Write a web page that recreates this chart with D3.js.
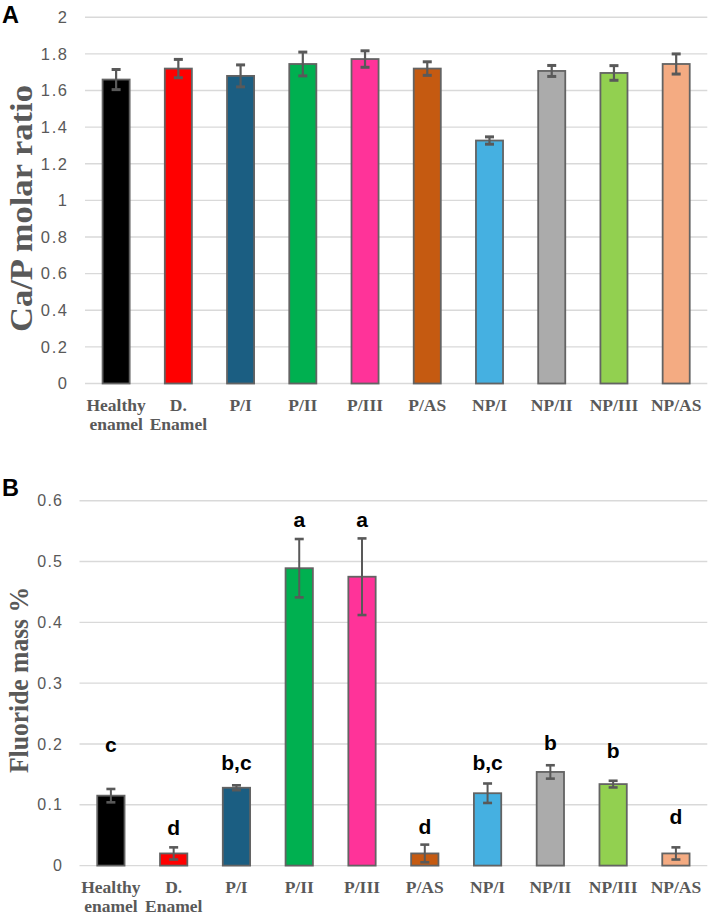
<!DOCTYPE html>
<html>
<head>
<meta charset="utf-8">
<script src="https://cdn.jsdelivr.net/npm/d3@7"></script>
<style>
  html, body { margin: 0; padding: 0; background: #ffffff; }
  svg { display: block; }
</style>
</head>
<body>
<script>
// ---------- data ----------
const categories = ["Healthy enamel", "D. Enamel", "P/I", "P/II", "P/III", "P/AS", "NP/I", "NP/II", "NP/III", "NP/AS"];
const categoryLines = [["Healthy", "enamel"], ["D.", "Enamel"], ["P/I"], ["P/II"], ["P/III"], ["P/AS"], ["NP/I"], ["NP/II"], ["NP/III"], ["NP/AS"]];
const barColors = ["#000000", "#ff0000", "#1b5e82", "#00b050", "#ff3399", "#c55a11", "#45b0e1", "#ababab", "#92d050", "#f4ab82"];

const caPRatio = [1.66, 1.72, 1.68, 1.745, 1.772, 1.72, 1.327, 1.707, 1.696, 1.745];
const caPError = [0.055, 0.05, 0.06, 0.065, 0.045, 0.037, 0.02, 0.03, 0.04, 0.055];
const caPTicks = [0, 0.2, 0.4, 0.6, 0.8, 1, 1.2, 1.4, 1.6, 1.8, 2];

const fluorideMass = [0.115, 0.020, 0.128, 0.489, 0.475, 0.020, 0.119, 0.154, 0.134, 0.020];
const fluorideError = [0.011, 0.010, 0.004, 0.048, 0.063, 0.0145, 0.016, 0.011, 0.0055, 0.010];
const fluorideTicks = [0, 0.1, 0.2, 0.3, 0.4, 0.5, 0.6];
const groupLetters = ["c", "d", "b,c", "a", "a", "d", "b,c", "b", "b", "d"];
const groupLetterLevel = [0.199, 0.063, 0.169, 0.569, 0.569, 0.064, 0.169, 0.202, 0.189, 0.080];

// ---------- drawing ----------
const W = 708, H = 915;
const svg = d3.select("body").append("svg").attr("width", W).attr("height", H);

function panel(opts) {
  const g = svg.append("g");
  const x = d3.scaleBand().domain(categories).range([opts.left, opts.right])
    .paddingInner(0.565).paddingOuter(0.2825);
  const y = d3.scaleLinear().domain(opts.domain).range([opts.bottom, opts.top]);

  // gridlines
  g.append("g").selectAll("line").data(opts.ticks).join("line")
    .attr("x1", opts.left).attr("x2", opts.right)
    .attr("y1", d => y(d)).attr("y2", d => y(d))
    .attr("stroke", "#d9d9d9").attr("stroke-width", 1.4);

  // y axis labels
  const ya = g.append("g").attr("transform", `translate(${opts.left - opts.tickGap},0)`)
    .call(d3.axisLeft(y).tickValues(opts.ticks).tickSize(0).tickPadding(0).tickFormat(d3.format("~g")));
  ya.select(".domain").remove();
  ya.selectAll("text")
    .attr("font-family", "'Liberation Sans', Arial, sans-serif")
    .attr("font-size", opts.tickFont)
    .attr("letter-spacing", opts.tickSpacing)
    .attr("dx", opts.tickSpacing)
    .attr("fill", "#595959");

  // bars
  g.append("g").selectAll("rect").data(categories).join("rect")
    .attr("x", d => x(d)).attr("width", x.bandwidth())
    .attr("y", (d, i) => y(opts.values[i]))
    .attr("height", (d, i) => y(0) - y(opts.values[i]))
    .attr("fill", (d, i) => barColors[i])
    .attr("stroke", "#636363").attr("stroke-width", 1.8);

  // error bars
  const eb = g.append("g").attr("stroke", "#595959").attr("stroke-width", opts.errWidth).attr("fill", "none");
  categories.forEach((c, i) => {
    const cx = x(c) + x.bandwidth() / 2;
    const hi = y(opts.values[i] + opts.errors[i]);
    const lo = y(opts.values[i] - opts.errors[i]);
    eb.append("line").attr("x1", cx).attr("x2", cx).attr("y1", hi).attr("y2", lo);
    eb.append("line").attr("x1", cx - 4.5).attr("x2", cx + 4.5).attr("y1", hi).attr("y2", hi).attr("stroke-width", opts.capWidth);
    eb.append("line").attr("x1", cx - 4.5).attr("x2", cx + 4.5).attr("y1", lo).attr("y2", lo).attr("stroke-width", opts.capWidth);
  });

  // x axis category labels
  const xa = g.append("g").attr("transform", `translate(0,${opts.bottom})`)
    .call(d3.axisBottom(x).tickSize(0).tickPadding(0).tickFormat(""));
  xa.select(".domain").remove();
  xa.selectAll(".tick").each(function (d, i) {
    const t = d3.select(this).append("text")
      .attr("text-anchor", "middle")
      .attr("font-family", "'Liberation Serif', 'Times New Roman', serif")
      .attr("font-weight", "bold")
      .attr("font-size", 17.5)
      .attr("fill", "#595959");
    categoryLines[i].forEach((ln, k) => {
      t.append("tspan").attr("x", 0).attr("y", 27.3 + k * 19.4).text(ln);
    });
  });

  // y title
  svg.append("text")
    .attr("transform", `translate(${opts.titleX},${opts.titleY}) rotate(-90)`)
    .attr("text-anchor", "middle")
    .attr("font-family", "'Liberation Serif', 'Times New Roman', serif")
    .attr("font-weight", "bold")
    .attr("font-size", opts.titleFont)
    .attr("textLength", opts.titleLen)
    .attr("lengthAdjust", "spacingAndGlyphs")
    .attr("fill", "#595959")
    .text(opts.title);

  // panel letter
  svg.append("text")
    .attr("x", 2).attr("y", opts.panelY)
    .attr("font-family", "'Liberation Sans', Arial, sans-serif")
    .attr("font-weight", "bold").attr("font-size", 23.5)
    .attr("fill", "#000")
    .text(opts.panel);

  return { g, x, y };
}

panel({
  panel: "A", panelY: 23,
  left: 85, right: 707.3, top: 17.3, bottom: 383.5,
  domain: [0, 2], ticks: caPTicks, values: caPRatio, errors: caPError,
  tickGap: 18, tickFont: 16.5, tickSpacing: 1.6,
  errWidth: 2.2, capWidth: 3,
  title: "Ca/P molar ratio", titleX: 32, titleY: 208.5, titleFont: 32, titleLen: 247
});

const B = panel({
  panel: "B", panelY: 496,
  left: 79.5, right: 707.3, top: 500.7, bottom: 865.6,
  domain: [0, 0.6], ticks: fluorideTicks, values: fluorideMass, errors: fluorideError,
  tickGap: 17.5, tickFont: 16, tickSpacing: 1.2,
  errWidth: 2, capWidth: 2.6,
  title: "Fluoride mass %", titleX: 28, titleY: 680, titleFont: 28, titleLen: 186
});

// significance letters on panel B
B.g.append("g").selectAll("text").data(categories).join("text")
  .attr("x", d => B.x(d) + B.x.bandwidth() / 2)
  .attr("y", (d, i) => B.y(groupLetterLevel[i]))
  .attr("dy", "0.35em")
  .attr("text-anchor", "middle")
  .attr("font-family", "'Liberation Sans', Arial, sans-serif")
  .attr("font-weight", "bold")
  .attr("font-size", 21)
  .attr("fill", "#000")
  .text((d, i) => groupLetters[i]);
</script>
</body>
</html>
